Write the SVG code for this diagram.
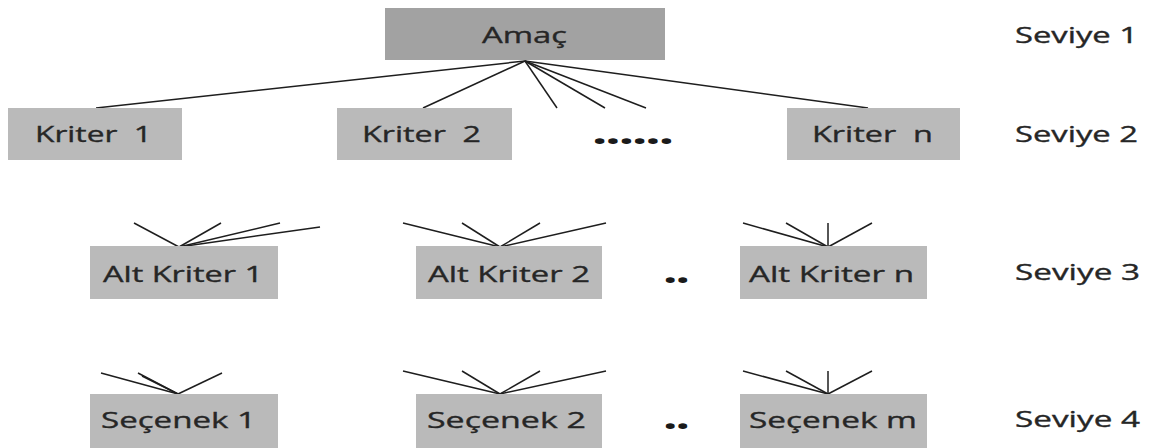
<svg xmlns="http://www.w3.org/2000/svg" width="1150" height="448" viewBox="0 0 1150 448">
<style>
.bg{fill:#ffffff}
.top{fill:#a2a2a2}
.box{fill:#bababa}
text{font-family:"Open Sans","Noto Sans","Liberation Sans",sans-serif;font-size:22px;font-weight:400;fill:#262626;stroke:#262626;stroke-width:0.35}
.c line{stroke:#1e1e1e;stroke-width:1.5;fill:none}
.dots{font-weight:800;font-size:30px;fill:#1a1a1a;stroke:none}
</style>
<rect class="bg" x="0" y="0" width="1150" height="448"/>
<g id="connectors" class="c">
<line x1="525" y1="61" x2="96" y2="108"/>
<line x1="525" y1="61" x2="423" y2="108"/>
<line x1="525" y1="61" x2="557" y2="108"/>
<line x1="525" y1="61" x2="605" y2="108"/>
<line x1="525" y1="61" x2="646" y2="108"/>
<line x1="525" y1="61" x2="868" y2="108"/>
<line x1="179" y1="247" x2="134" y2="223"/>
<line x1="179" y1="247" x2="221" y2="223"/>
<line x1="179" y1="247" x2="280" y2="223"/>
<line x1="179" y1="247" x2="320" y2="227"/>
<line x1="500" y1="247" x2="403" y2="223"/>
<line x1="500" y1="247" x2="462" y2="223"/>
<line x1="500" y1="247" x2="540" y2="223"/>
<line x1="500" y1="247" x2="606" y2="223"/>
<line x1="828" y1="247" x2="743" y2="223"/>
<line x1="828" y1="247" x2="786" y2="223"/>
<line x1="828" y1="247" x2="828" y2="223"/>
<line x1="828" y1="247" x2="872" y2="223"/>
<line x1="178" y1="394" x2="101" y2="373"/>
<line x1="178" y1="394" x2="138" y2="373"/>
<line x1="178" y1="394" x2="142" y2="376"/>
<line x1="178" y1="394" x2="222" y2="373"/>
<line x1="500" y1="394" x2="403" y2="371"/>
<line x1="500" y1="394" x2="462" y2="371"/>
<line x1="500" y1="394" x2="540" y2="371"/>
<line x1="500" y1="394" x2="606" y2="371"/>
<line x1="828" y1="394" x2="743" y2="371"/>
<line x1="828" y1="394" x2="786" y2="371"/>
<line x1="828" y1="394" x2="828" y2="371"/>
<line x1="828" y1="394" x2="872" y2="371"/>
</g>
<g id="amac"><rect class="top" x="385" y="8" width="280" height="52"/><text x="482" y="43" textLength="85" lengthAdjust="spacingAndGlyphs">Amaç</text></g>
<g id="kriter1"><rect class="box" x="8" y="108" width="174" height="52"/><text x="35" y="142" textLength="117" lengthAdjust="spacingAndGlyphs" xml:space="preserve">Kriter  1</text></g>
<g id="kriter2"><rect class="box" x="337" y="108" width="175" height="52"/><text x="362" y="142" textLength="119" lengthAdjust="spacingAndGlyphs" xml:space="preserve">Kriter  2</text></g>
<g id="dots2"><text class="dots" x="593" y="144" textLength="80" lengthAdjust="spacingAndGlyphs">......</text></g>
<g id="kritern"><rect class="box" x="787" y="108" width="173" height="52"/><text x="812" y="142" textLength="121" lengthAdjust="spacingAndGlyphs" xml:space="preserve">Kriter  n</text></g>
<g id="altkriter1"><rect class="box" x="90" y="246" width="188" height="53"/><text x="103" y="282" textLength="160" lengthAdjust="spacingAndGlyphs">Alt Kriter 1</text></g>
<g id="altkriter2"><rect class="box" x="416" y="246" width="186" height="53"/><text x="428" y="282" textLength="162" lengthAdjust="spacingAndGlyphs">Alt Kriter 2</text></g>
<g id="dots3"><text class="dots" x="664" y="283" textLength="25" lengthAdjust="spacingAndGlyphs">..</text></g>
<g id="altkritern"><rect class="box" x="740" y="246" width="187" height="53"/><text x="749" y="282" textLength="165" lengthAdjust="spacingAndGlyphs">Alt Kriter n</text></g>
<g id="secenek1"><rect class="box" x="90" y="394" width="188" height="54"/><text x="101" y="428" textLength="155" lengthAdjust="spacingAndGlyphs">Seçenek 1</text></g>
<g id="secenek2"><rect class="box" x="416" y="394" width="186" height="54"/><text x="427" y="428" textLength="159" lengthAdjust="spacingAndGlyphs">Seçenek 2</text></g>
<g id="dots4"><text class="dots" x="664" y="429" textLength="25" lengthAdjust="spacingAndGlyphs">..</text></g>
<g id="secenekm"><rect class="box" x="740" y="394" width="187" height="54"/><text x="749" y="428" textLength="168" lengthAdjust="spacingAndGlyphs">Seçenek m</text></g>
<g id="seviye1"><text x="1015" y="43" textLength="123" lengthAdjust="spacingAndGlyphs">Seviye 1</text></g>
<g id="seviye2"><text x="1015" y="142" textLength="123" lengthAdjust="spacingAndGlyphs">Seviye 2</text></g>
<g id="seviye3"><text x="1015" y="280" textLength="125" lengthAdjust="spacingAndGlyphs">Seviye 3</text></g>
<g id="seviye4"><text x="1015" y="427" textLength="125" lengthAdjust="spacingAndGlyphs">Seviye 4</text></g>
</svg>
